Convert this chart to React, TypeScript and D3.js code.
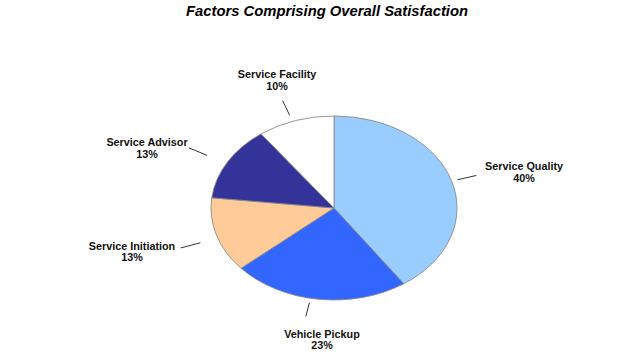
import React from "react";
import * as d3 from "d3";

const categories = ["Service Quality", "Vehicle Pickup", "Service Initiation", "Service Advisor", "Service Facility"];
const values = [40, 23, 13, 13, 10];
const percentLabels = ["40%", "23%", "13%", "13%", "10%"];
const colors = ["#99CCFF", "#3366FF", "#FFCC99", "#333399", "#FFFFFF"];

// layout (angles in degrees clockwise from 12 o'clock, distances in ellipse-radius units)
const leaderAngle = [73, 191, 250.8, 299, 340.3];
const leaderFrom = [1.05, 1.05, 1.15, 1.18, 1.07];
const leaderTo = [1.21, 1.2, 1.32, 1.35, 1.24];
const labelAngle = [75.8, 183.9, 253.8, 293.2, 341.6];
const labelDist = [1.594, 1.438, 1.71, 1.654, 1.466];

const W = 640, H = 355;
const cx = 334, cy = 208, rx = 123, ry = 92;
const R = 100;

export default function App() {
  const pie = d3.pie<number>().sort(null).value((d) => d);
  const arcs = pie(values);
  const arc = d3.arc<d3.PieArcDatum<number>>().innerRadius(0).outerRadius(R);
  const pt = (deg: number, k: number) => {
    const a = (deg * Math.PI) / 180;
    return [cx + rx * k * Math.sin(a), cy - ry * k * Math.cos(a)];
  };
  const font = "'Liberation Sans', Arial, sans-serif";
  return (
    <svg width={W} height={H} style={{ position: "absolute", left: 0, top: 0, background: "#fff" }}>
      <text x={327} y={16} textAnchor="middle" fontFamily={font} fontWeight="bold" fontStyle="italic" fontSize={14.8} fill="#000">
        Factors Comprising Overall Satisfaction
      </text>
      <g transform={`translate(${cx},${cy}) scale(${rx / R},${ry / R})`}>
        {arcs.map((a, i) => (
          <path key={i} d={arc(a) || ""} fill={colors[i]} stroke="#8a8a8a" strokeWidth={0.9} vectorEffect="non-scaling-stroke" />
        ))}
      </g>
      {categories.map((c, i) => {
        const [x1, y1] = pt(leaderAngle[i], leaderFrom[i]);
        const [x2, y2] = pt(leaderAngle[i], leaderTo[i]);
        const [lx, ly] = pt(labelAngle[i], labelDist[i]);
        return (
          <g key={c}>
            <line x1={x1} y1={y1} x2={x2} y2={y2} stroke="#333" strokeWidth={1} />
            <text x={lx} y={ly - 2} textAnchor="middle" fontFamily={font} fontWeight="bold" fontSize={10.8} fill="#111">
              <tspan x={lx} y={ly - 2}>{c}</tspan>
              <tspan x={lx} y={ly + 9.5}>{percentLabels[i]}</tspan>
            </text>
          </g>
        );
      })}
    </svg>
  );
}
